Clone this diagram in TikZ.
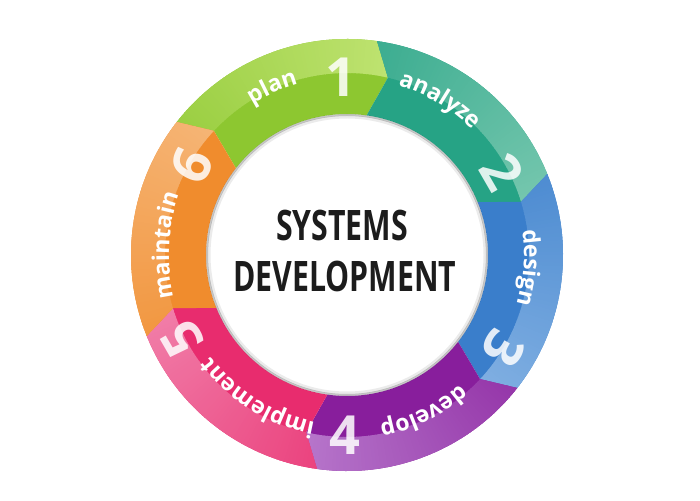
\documentclass[tikz,border=0pt]{standalone}
\usepackage{fontspec}
\setmainfont{Open Sans}
\newfontfamily\labfont{Open Sans}
\usetikzlibrary{decorations.text}
\definecolor{gbase}{RGB}{141,199,48}
\definecolor{glight}{RGB}{196,230,120}
\definecolor{tbase}{RGB}{38,163,133}
\definecolor{tlight}{RGB}{125,202,178}
\definecolor{bbase}{RGB}{58,126,203}
\definecolor{blight}{RGB}{135,180,228}
\definecolor{pbase}{RGB}{136,30,156}
\definecolor{plight}{RGB}{188,128,208}
\definecolor{kbase}{RGB}{232,44,110}
\definecolor{klight}{RGB}{242,135,175}
\definecolor{obase}{RGB}{240,140,45}
\definecolor{olight}{RGB}{246,185,125}
\definecolor{centertext}{RGB}{28,28,28}
\newcommand\ringseg[3]{%
  \pgfmathsetmacro\sa{#1}%
  \pgfmathsetmacro\ea{#1-60}%
  \fill[#2] (\sa:\Ro) arc[start angle=\sa,end angle=\ea,radius=\Ro] -- (\ea-5:\Rm)
    -- (\ea:\Ri) arc[start angle=\ea,end angle=\sa,radius=\Ri] -- (\sa-5:\Rm) -- cycle;
  \begin{scope}
    \clip (\sa:\Ro) arc[start angle=\sa,end angle=\ea,radius=\Ro] -- (\ea-5:\Rm)
      arc[start angle=\ea-5,end angle=\sa-5,radius=\Rm] -- cycle;
    \foreach \j in {0,...,69}{%
      \pgfmathtruncatemacro\pc{25+\j}%
      \fill[#3!\pc!#2] (0,0) -- (\sa+1-\j:240)
        arc[start angle=\sa+1-\j,end angle=\sa-\j-0.3,radius=240] -- cycle;
    }
  \end{scope}
}
\newcommand\ringlabel[3]{%
  \path[decorate,decoration={text along path,text align=center,text color=white,
    text={|\labfont\bfseries\fontsize{23}{23}\selectfont|#3}}]
    (#1+40:#2) arc[start angle=#1+40,end angle=#1-40,radius=#2];
}
\begin{document}
\begin{tikzpicture}[x=1pt,y=1pt,
  num/.style={font=\labfont\bfseries\fontsize{54}{54}\selectfont,text=white,text opacity=0.85,inner sep=0pt},
  title/.style={font=\labfont\bfseries\fontsize{42}{42}\selectfont,text=centertext,inner sep=0pt,anchor=base}]
\def\Ro{216}\def\Ri{141}\def\Rm{182}
\useasboundingbox (-347,-245) rectangle (353,255);
\fill[white] (-347,-245) rectangle (353,255);
% segments
\ringseg{142}{gbase}{glight}
\ringseg{82}{tbase}{tlight}
\ringseg{22}{bbase}{blight}
\ringseg{-38}{pbase}{plight}
\ringseg{-98}{kbase}{klight}
\ringseg{-158}{obase}{olight}
% inner shadow
\draw[black,opacity=0.22,line width=2] (0,0) circle[radius=\Ri-1];
\draw[black,opacity=0.08,line width=3] (0,0) circle[radius=\Ri-3];
% labels
\ringlabel{114}{178}{plan}
\ringlabel{59}{177}{analyze}
\ringlabel{-4}{177}{design}
\ringlabel{-64}{172}{develop}
\ringlabel{-122}{170}{implement}
\ringlabel{177}{178}{maintain}
% numbers
\node[num] (n1) at (92:178) {1};
\node[num,rotate=-60] (n2) at (28:176) {2};
\node[num,rotate=-120] (n3) at (-31:182) {3};
\node[num] (n4) at (-90.6:180) {4};
\node[num,rotate=120] (n5) at (-153:185) {5};
\node[num,rotate=65] (n6) at (150:180) {6};
% center title
\node[title] (t1) at (-5,14) {\scalebox{0.72}[1]{SYSTEMS}};
\node[title] (t2) at (-2,-37) {\scalebox{0.72}[1]{DEVELOPMENT}};
\end{tikzpicture}
\end{document}
